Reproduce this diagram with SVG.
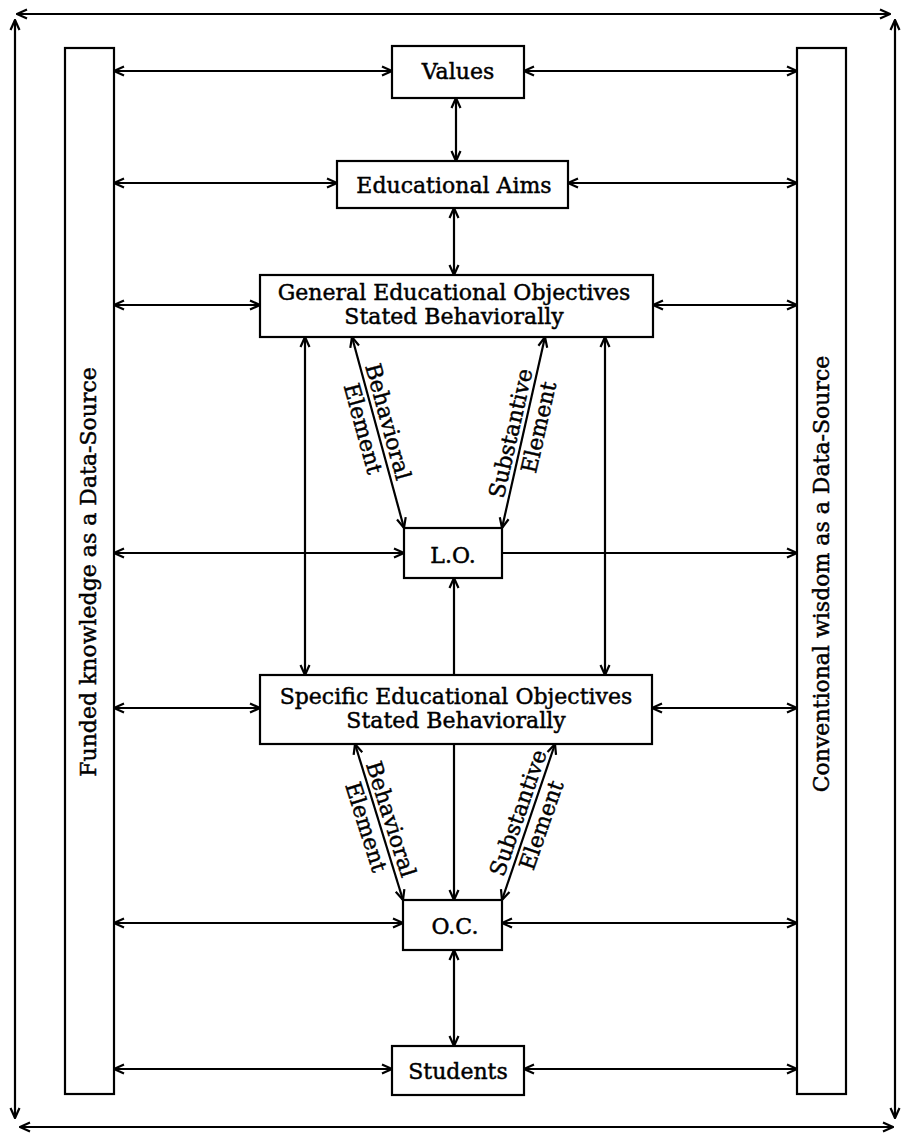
<svg xmlns="http://www.w3.org/2000/svg" width="902" height="1133" viewBox="0 0 902 1133">
<style>
.box{fill:#fff;stroke:#000;stroke-width:2.2}
.bar{fill:#fff;stroke:#000;stroke-width:2.2}
.t{font-family:"DejaVu Serif","Liberation Serif",serif;font-size:22px;fill:#000;stroke:#000;stroke-width:0.45;text-anchor:middle}
.c line{stroke:#000;stroke-width:2.2;fill:none}
.d{marker-start:url(#ah);marker-end:url(#ah)}
.e{marker-end:url(#ah)}
</style>
<defs>
<marker id="ah" viewBox="0 0 12 12" refX="11" refY="6" markerWidth="12" markerHeight="12" markerUnits="userSpaceOnUse" orient="auto-start-reverse">
<path d="M1,1.5 L11,6 L1,10.5" fill="none" stroke="#000" stroke-width="2.2"/>
</marker>
</defs>
<rect width="902" height="1133" fill="#fff"/>

<g id="funded">
<rect class="bar" x="65" y="48" width="49" height="1046"/>
<text class="t" transform="translate(96,572) rotate(-90)">Funded knowledge as a Data-Source</text>
</g>
<g id="conventional">
<rect class="bar" x="797" y="48" width="49" height="1046"/>
<text class="t" transform="translate(829,574) rotate(-90)">Conventional wisdom as a Data-Source</text>
</g>

<g id="values">
<rect class="box" x="392" y="46" width="132" height="52"/>
<text class="t" x="458" y="79">Values</text>
</g>
<g id="aims">
<rect class="box" x="337" y="161" width="231" height="47"/>
<text class="t" x="454" y="193">Educational Aims</text>
</g>
<g id="general">
<rect class="box" x="260" y="275" width="393" height="62"/>
<text class="t" x="454" y="300">General Educational Objectives</text>
<text class="t" x="454" y="324">Stated Behaviorally</text>
</g>
<g id="lo">
<rect class="box" x="404" y="528" width="98" height="50"/>
<text class="t" x="453" y="563">L.O.</text>
</g>
<g id="specific">
<rect class="box" x="260" y="675" width="392" height="69"/>
<text class="t" x="456" y="704">Specific Educational Objectives</text>
<text class="t" x="456" y="728">Stated Behaviorally</text>
</g>
<g id="oc">
<rect class="box" x="403" y="900" width="99" height="50"/>
<text class="t" x="455" y="934">O.C.</text>
</g>
<g id="students">
<rect class="box" x="392" y="1046" width="132" height="49"/>
<text class="t" x="458" y="1079">Students</text>
</g>

<g id="connectors" class="c">
<line class="d" x1="17" y1="14" x2="890" y2="14"/>
<line class="d" x1="15" y1="20" x2="15" y2="1118"/>
<line class="d" x1="895" y1="20" x2="895" y2="1118"/>
<line class="d" x1="20" y1="1127" x2="893" y2="1127"/>

<line class="d" x1="114" y1="71" x2="392" y2="71"/>
<line class="d" x1="524" y1="71" x2="797" y2="71"/>
<line class="d" x1="114" y1="183" x2="337" y2="183"/>
<line class="d" x1="568" y1="183" x2="797" y2="183"/>
<line class="d" x1="114" y1="305" x2="260" y2="305"/>
<line class="d" x1="653" y1="305" x2="797" y2="305"/>
<line class="d" x1="114" y1="553" x2="404" y2="553"/>
<line class="e" x1="502" y1="553" x2="797" y2="553"/>
<line class="d" x1="114" y1="708" x2="260" y2="708"/>
<line class="d" x1="652" y1="708" x2="797" y2="708"/>
<line class="d" x1="114" y1="923" x2="403" y2="923"/>
<line class="d" x1="502" y1="923" x2="797" y2="923"/>
<line class="d" x1="114" y1="1069" x2="392" y2="1069"/>
<line class="d" x1="524" y1="1069" x2="797" y2="1069"/>

<line class="d" x1="456" y1="98" x2="456" y2="161"/>
<line class="d" x1="454" y1="208" x2="454" y2="275"/>
<line class="d" x1="305" y1="337" x2="305" y2="675"/>
<line class="d" x1="605" y1="337" x2="605" y2="675"/>
<line class="e" x1="454" y1="675" x2="454" y2="578"/>
<line class="e" x1="454" y1="744" x2="454" y2="900"/>
<line class="d" x1="454" y1="950" x2="454" y2="1046"/>

<line class="d" x1="352" y1="337" x2="404" y2="528"/>
<line class="d" x1="545" y1="337" x2="502" y2="528"/>
<line class="d" x1="355" y1="744" x2="403" y2="900"/>
<line class="d" x1="555" y1="744" x2="502" y2="900"/>
</g>

<g id="labels">
<g transform="translate(376,425) rotate(74.6)">
<text class="t" x="0" y="-5">Behavioral</text>
<text class="t" x="0" y="21">Element</text>
</g>
<g transform="translate(523,436) rotate(-77.2)">
<text class="t" x="0" y="-5">Substantive</text>
<text class="t" x="12" y="21">Element</text>
</g>
<g transform="translate(379,823) rotate(72.4)">
<text class="t" x="0" y="-5">Behavioral</text>
<text class="t" x="0" y="21">Element</text>
</g>
<g transform="translate(530,817) rotate(-70.7)">
<text class="t" x="0" y="-5">Substantive</text>
<text class="t" x="-4" y="21">Element</text>
</g>
</g>
</svg>
